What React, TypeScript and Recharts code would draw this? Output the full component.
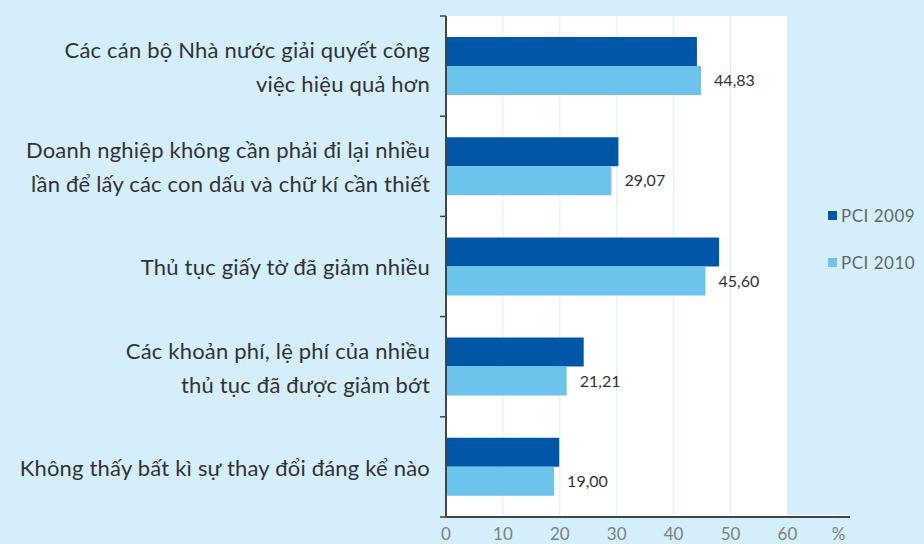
import React from 'react';
import {
  BarChart, Bar, XAxis, YAxis, CartesianGrid, LabelList, ReferenceArea,
} from 'recharts';

const categories = [
  'Các cán bộ Nhà nước giải quyết công\nviệc hiệu quả hơn',
  'Doanh nghiệp không cần phải đi lại nhiều\nlần để lấy các con dấu và chữ kí cần thiết',
  'Thủ tục giấy tờ đã giảm nhiều',
  'Các khoản phí, lệ phí của nhiều\nthủ tục đã được giảm bớt',
  'Không thấy bất kì sự thay đổi đáng kể nào',
];
const pci2009 = [44.1, 30.3, 48.0, 24.2, 19.9];
const pci2010 = [44.83, 29.07, 45.6, 21.21, 19.0];
const seriesNames = ['PCI 2009', 'PCI 2010'];
const xTicks = [0, 10, 20, 30, 40, 50, 60, 69];

const data = categories.map((name, i) => ({ name, v2009: pci2009[i], v2010: pci2010[i] }));

const BG = '#d4eefb';
const DARK = '#0057a8';
const LIGHT = '#6cc4ec';
const FONT = 'Lato, "Open Sans", sans-serif';

const CategoryTick = (props: any) => {
  const { x, y, payload, index } = props;
  const lines: string[] = String(payload.value).split('\n');
  const lh = 34;
  const start = -((lines.length - 1) * lh) / 2;
  const half = payload.offset || 0;
  const axisX = x + 8; // tick x is pulled in by tickSize + margin
  return (
    <g>
      {/* tick marks sit on the band edges, not the centre */}
      <line x1={axisX - 6} x2={axisX} y1={y - half} y2={y - half} stroke="#444" strokeWidth={1.5} />
      {index === categories.length - 1 && (
        <line x1={axisX - 6} x2={axisX} y1={y + half} y2={y + half} stroke="#444" strokeWidth={1.5} />
      )}
      <text x={x - 8} y={y} textAnchor="end" fill="#333" fontSize={22} letterSpacing={0.2} fontFamily={FONT}>
        {lines.map((l, i) => (
          <tspan key={i} x={x - 8} y={y + start + i * lh} dy="0.4em">{l}</tspan>
        ))}
      </text>
    </g>
  );
};

// area beyond 60 goes back to page colour; trimmed a bit so the axis line stays on top
const OuterArea = (props: any) => {
  const { x, y, width, height } = props;
  return <rect x={x} y={y} width={width} height={Math.max(0, height - 2)} fill={BG} />;
};

// legend kept outside the svg so it doesn't eat plot width
const LegendBox = () => (
  <div style={{ position: 'absolute', left: 828, top: 203, fontFamily: FONT, fontSize: 17, letterSpacing: 0.5, color: '#666' }}>
    {seriesNames.map((n, i) => (
      <div key={n} style={{ display: 'flex', alignItems: 'center', height: 24, marginBottom: i === 0 ? 23 : 0 }}>
        <span style={{ width: 9, height: 9, background: i === 0 ? DARK : LIGHT, marginRight: 4, display: 'inline-block' }} />
        {n}
      </div>
    ))}
  </div>
);

export default function App() {
  return (
    <div style={{ position: 'absolute', left: 0, top: 0, width: 924, height: 544, background: BG }}>
      <BarChart
        width={924}
        height={544}
        data={data}
        layout="vertical"
        margin={{ top: 16, right: 74, bottom: 0, left: 0 }}
        barGap={0}
        barCategoryGap={0}
      >
        <CartesianGrid horizontal={false} stroke="#d8effb" fill="#ffffff" fillOpacity={1} />
        <ReferenceArea x1={60} x2={71} shape={<OuterArea />} />
        <XAxis
          type="number"
          domain={[0, 71]}
          ticks={xTicks}
          tickFormatter={(v: number) => (v === 69 ? '%' : String(v))}
          axisLine={{ stroke: '#444', strokeWidth: 2 }}
          tickLine={false}
          tick={{ fill: '#808080', fontSize: 17, fontFamily: FONT }}
          height={27}
          tickMargin={5}
        />
        <YAxis
          type="category"
          dataKey="name"
          width={446}
          axisLine={{ stroke: '#444', strokeWidth: 2 }}
          tickLine={false}
          tick={<CategoryTick />}
          interval={0}
        />
        <Bar dataKey="v2009" name={seriesNames[0]} fill={DARK} barSize={29} isAnimationActive={false} />
        <Bar dataKey="v2010" name={seriesNames[1]} fill={LIGHT} barSize={29} isAnimationActive={false}>
          <LabelList
            dataKey="v2010"
            position="right"
            offset={13}
            formatter={(v: any) => Number(v).toFixed(2).replace('.', ',')}
            style={{ fill: '#333', fontSize: 16, fontFamily: FONT }}
          />
        </Bar>
      </BarChart>
      <LegendBox />
    </div>
  );
}
